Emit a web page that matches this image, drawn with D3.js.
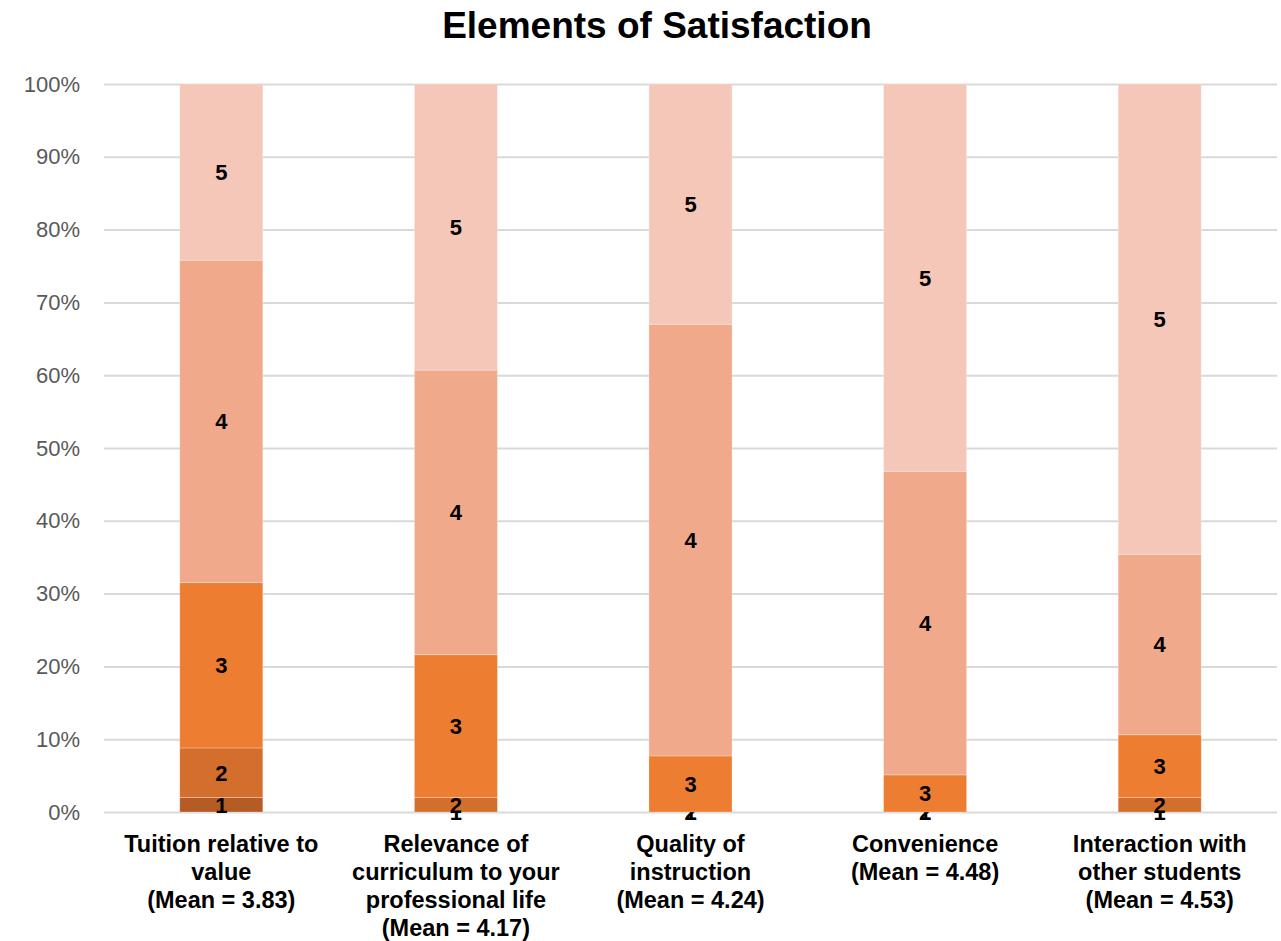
<!DOCTYPE html>
<html>
<head>
<meta charset="utf-8">
<script src="https://cdn.jsdelivr.net/npm/d3@7"></script>
<style>
  body { margin: 0; background: #fff; }
  svg { font-family: "Liberation Sans", Arial, Helvetica, sans-serif; }
</style>
</head>
<body>
<div id="chart"></div>
<script>
// Categories (each split into display lines) and rating shares, in percent.
var categories = [
    ['Tuition relative to', 'value', '(Mean = 3.83)'],
    ['Relevance of', 'curriculum to your', 'professional life', '(Mean = 4.17)'],
    ['Quality of', 'instruction', '(Mean = 4.24)'],
    ['Convenience', '(Mean = 4.48)'],
    ['Interaction with', 'other students', '(Mean = 4.53)']
];
var ratings = ['1', '2', '3', '4', '5'];
var rating1 = [2.0, 0, 0, 0, 0];
var rating2 = [6.8, 2.0, 0, 0, 2.0];
var rating3 = [22.7, 19.6, 7.7, 5.1, 8.6];
var rating4 = [44.3, 39.1, 59.3, 41.7, 24.8];
var rating5 = [24.2, 39.3, 33.0, 53.2, 64.6];
var yTicks = [0, 10, 20, 30, 40, 50, 60, 70, 80, 90, 100];
var colors = ['#b55b24', '#d46e2d', '#ed7d31', '#f0a98a', '#f5c7b8'];

var width = 1281,
    height = 941;
var margin = {left: 104, right: 4, top: 84, bottom: 129};
var innerW = width - margin.left - margin.right,
    innerH = height - margin.top - margin.bottom;

var svg = d3.select('#chart')
    .append('svg')
        .attr('width', width)
        .attr('height', height);

var g = svg.append('g')
    .attr('transform', 'translate(' + margin.left + ', ' + margin.top + ')');

// Build rows for the stack.
var series = [rating1, rating2, rating3, rating4, rating5];
var rows = categories.map(function(c, i){
    var row = {key: i};
    ratings.forEach(function(r, j){ row[r] = series[j][i]; });
    return row;
});
var stacked = d3.stack().keys(ratings)(rows);

var x = d3.scaleBand()
    .domain(d3.range(categories.length))
    .range([0, innerW])
    .paddingInner(0.646)
    .paddingOuter(0.323);

var y = d3.scaleLinear()
    .domain([0, 100])
    .range([innerH, 0]);

// Gridlines and y tick labels.
var yAxis = d3.axisLeft(y)
    .tickValues(yTicks)
    .tickSize(-innerW)
    .tickPadding(24)
    .tickFormat(function(d){ return d + '%'; });

g.append('g')
    .attr('class', 'y-axis')
    .call(yAxis)
    .call(function(a){
        a.select('.domain').remove();
        a.selectAll('.tick line').attr('stroke', '#d9d9d9').attr('stroke-width', 2);
        a.selectAll('.tick text')
            .attr('fill', '#595959')
            .style('font-size', '22px')
            .style('font-family', '"Liberation Sans", Arial, sans-serif');
    });

// Stacked bars.
var layers = g.selectAll('.layer')
    .data(stacked)
    .enter().append('g')
        .attr('class', 'layer')
        .attr('fill', function(d, i){ return colors[i]; });

layers.selectAll('rect')
    .data(function(d){ return d; })
    .enter().append('rect')
        .attr('x', function(d, i){ return x(i); })
        .attr('y', function(d){ return y(d[1]); })
        .attr('width', x.bandwidth())
        .attr('height', function(d){ return y(d[0]) - y(d[1]); })
        .attr('stroke', 'rgba(255,255,255,0.35)')
        .attr('stroke-width', 0.75);

// Segment labels.
layers.each(function(layer, li){
    d3.select(this).selectAll('text')
        .data(layer)
        .enter().append('text')
            .attr('x', function(d, i){ return x(i) + x.bandwidth() / 2; })
            .attr('y', function(d){ return y((d[0] + d[1]) / 2); })
            .attr('dy', '0.36em')
            .attr('text-anchor', 'middle')
            .attr('fill', '#000')
            .style('font-size', '22px')
            .style('font-weight', 'bold')
            .text(ratings[li]);
});

// Category labels.
var xl = g.append('g').attr('class', 'x-labels');
categories.forEach(function(lines, i){
    var t = xl.append('text')
        .attr('x', x(i) + x.bandwidth() / 2)
        .attr('y', innerH + 40)
        .attr('text-anchor', 'middle')
        .attr('fill', '#000')
        .style('font-size', '23.5px')
        .style('font-weight', 'bold');
    lines.forEach(function(l, k){
        t.append('tspan')
            .attr('x', x(i) + x.bandwidth() / 2)
            .attr('dy', k === 0 ? 0 : 28)
            .text(l);
    });
});

// Title.
svg.append('text')
    .attr('x', 657)
    .attr('y', 38)
    .attr('text-anchor', 'middle')
    .attr('fill', '#000')
    .style('font-size', '37px')
    .style('font-weight', 'bold')
    .text('Elements of Satisfaction');
</script>
</body>
</html>
